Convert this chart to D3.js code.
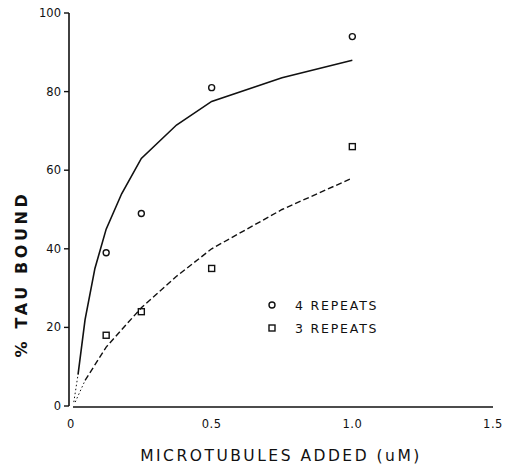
<!DOCTYPE html>
<html>
<head>
<meta charset="utf-8">
<script src="https://cdn.jsdelivr.net/npm/d3@7"></script>
<style>
  html, body { margin: 0; padding: 0; background: #fff; }
  text { font-family: "DejaVu Sans", "Liberation Sans", sans-serif; fill: #111; }
</style>
</head>
<body>
<svg id="chart" width="508" height="467"></svg>
<script>
// measured points
const conc = [0.125, 0.25, 0.5, 1.0];
const rep4 = [39, 49, 81, 94];
const rep3 = [18, 24, 35, 66];

// fitted curves
const fitX4 = [0.025, 0.05, 0.085, 0.125, 0.18, 0.25, 0.375, 0.5, 0.75, 1.0];
const fitY4 = [8, 22, 35, 45, 54, 63, 71.5, 77.5, 83.5, 88];
const fitX3 = [0.05, 0.125, 0.25, 0.375, 0.5, 0.75, 1.0];
const fitY3 = [6.5, 15, 25, 33, 40, 50, 58];

const xTicks = [0, 0.5, 1.0, 1.5];
const xTickLabels = ["0", "0.5", "1.0", "1.5"];
const yTicks = [0, 20, 40, 60, 80, 100];

const legendLabels = ["4 REPEATS", "3 REPEATS"];

const svg = d3.select("#chart");
const x = d3.scaleLinear().domain([0, 1.5]).range([71, 493]);
const y = d3.scaleLinear().domain([0, 100]).range([406, 13]);

const ink = "#111";

// y axis: line + left ticks
svg.append("line")
  .attr("x1", 69).attr("x2", 69)
  .attr("y1", y(0)).attr("y2", y(100))
  .attr("stroke", ink).attr("stroke-width", 1.6);
svg.append("g").selectAll("line").data(yTicks).join("line")
  .attr("x1", 64).attr("x2", 69)
  .attr("y1", (d) => y(d)).attr("y2", (d) => y(d))
  .attr("stroke", ink).attr("stroke-width", 1.4);
svg.append("g").selectAll("text").data(yTicks).join("text")
  .attr("x", 61).attr("y", (d) => y(d) + 4)
  .attr("text-anchor", "end")
  .attr("font-size", 11.5)
  .text((d) => d);

// x axis
svg.append("line")
  .attr("x1", x(0) + 2).attr("x2", x(1.5))
  .attr("y1", y(0) + 1).attr("y2", y(0) + 1)
  .attr("stroke", ink).attr("stroke-width", 1.6);
svg.append("g").selectAll("text").data(xTicks).join("text")
  .attr("x", (d) => x(d)).attr("y", 428)
  .attr("text-anchor", "middle")
  .attr("font-size", 11.5)
  .attr("letter-spacing", 0.5)
  .text((d, i) => xTickLabels[i]);

// axis titles
svg.append("text")
  .attr("x", 281).attr("y", 461)
  .attr("text-anchor", "middle")
  .attr("font-size", 15.5)
  .attr("letter-spacing", 2.5)
  .text("MICROTUBULES ADDED (uM)");
svg.append("text")
  .attr("transform", "translate(27,274) rotate(-90)")
  .attr("text-anchor", "middle")
  .attr("font-size", 16)
  .attr("font-weight", "bold")
  .attr("letter-spacing", 3.6)
  .text("% TAU BOUND");

// curves
const line = d3.line().x((d) => x(d[0])).y((d) => y(d[1]));
const pts4 = fitX4.map((v, i) => [v, fitY4[i]]);
const pts3 = fitX3.map((v, i) => [v, fitY3[i]]);

// dotted lead-in from origin
svg.append("path")
  .attr("d", line([[0.01, 1], pts4[0]]))
  .attr("fill", "none").attr("stroke", ink).attr("stroke-width", 1)
  .attr("stroke-dasharray", "1.5,2.5");
svg.append("path")
  .attr("d", line([[0.015, 1], pts3[0]]))
  .attr("fill", "none").attr("stroke", ink).attr("stroke-width", 1)
  .attr("stroke-dasharray", "1.5,2.5");

svg.append("path")
  .attr("d", line(pts4))
  .attr("fill", "none").attr("stroke", ink).attr("stroke-width", 1.6);
svg.append("path")
  .attr("d", line(pts3))
  .attr("fill", "none").attr("stroke", ink).attr("stroke-width", 1.4)
  .attr("stroke-dasharray", "6,3");

// markers
svg.append("g").selectAll("circle").data(conc).join("circle")
  .attr("cx", (d) => x(d)).attr("cy", (d, i) => y(rep4[i]))
  .attr("r", 3).attr("fill", "none").attr("stroke", ink).attr("stroke-width", 1.4);
svg.append("g").selectAll("rect").data(conc).join("rect")
  .attr("x", (d) => x(d) - 3).attr("y", (d, i) => y(rep3[i]) - 3)
  .attr("width", 6).attr("height", 6)
  .attr("fill", "none").attr("stroke", ink).attr("stroke-width", 1.4);

// legend
const lg = svg.append("g").attr("transform", "translate(272,305)");
lg.append("circle").attr("cx", 0).attr("cy", 0).attr("r", 3)
  .attr("fill", "none").attr("stroke", ink).attr("stroke-width", 1.4);
lg.append("rect").attr("x", -3).attr("y", 20).attr("width", 6).attr("height", 6)
  .attr("fill", "none").attr("stroke", ink).attr("stroke-width", 1.4);
lg.selectAll("text").data(legendLabels).join("text")
  .attr("x", 23).attr("y", (d, i) => i * 23 + 4.5)
  .attr("font-size", 12.5)
  .attr("letter-spacing", 1.8)
  .text((d) => d);
</script>
</body>
</html>
